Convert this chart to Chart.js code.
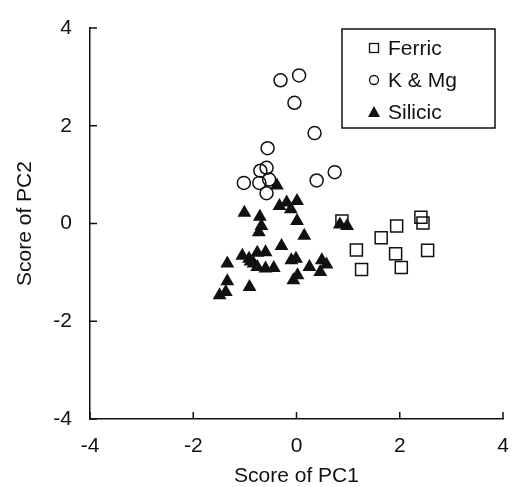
<!DOCTYPE html>
<html>
<head>
<meta charset="utf-8">
<script src="https://cdn.jsdelivr.net/npm/chart.js@4"></script>
<style>
  html, body { margin: 0; padding: 0; background: #fff; }
  #wrap { width: 513px; height: 487px; }
</style>
</head>
<body>
<div id="wrap"><canvas id="PcaChart"></canvas></div>
<script>
// Data dari gambar
const seriesNames = ['Ferric', 'K & Mg', 'Silicic'];

const ferricX = [0.88, 1.94, 2.41, 2.45, 1.64, 1.16, 1.92, 2.54, 1.26, 2.03];
const ferricY = [0.05, -0.05, 0.13, 0.01, -0.29, -0.54, -0.62, -0.55, -0.94, -0.90];

const kmgX = [-0.31, 0.05, -0.04, 0.35, -0.56, 0.74, 0.39, -0.70, -0.58, -1.02, -0.72, -0.53, -0.58];
const kmgY = [2.93, 3.03, 2.47, 1.85, 1.54, 1.05, 0.88, 1.08, 1.14, 0.83, 0.83, 0.90, 0.62];

const silicicX = [-0.38, -0.33, -0.19, 0.01, -0.11, 0.01, 0.15, -1.01, -0.71, -0.68, -0.73, -0.29,
  -1.05, -0.92, -0.76, -0.60, -0.83, -0.76, -0.60, -0.44, -1.34, -0.10, -0.01, 0.02, -0.06, 0.25,
  0.49, 0.58, 0.46, -1.34, -1.37, -1.49, -0.91, 0.84, 0.98, -0.89];
const silicicY = [0.78, 0.36, 0.43, 0.46, 0.29, 0.05, -0.25, 0.22, 0.14, -0.05, -0.18, -0.46,
  -0.66, -0.72, -0.60, -0.59, -0.82, -0.89, -0.92, -0.91, -0.82, -0.75, -0.72, -1.06, -1.16, -0.89,
  -0.75, -0.84, -0.99, -1.18, -1.40, -1.47, -1.30, -0.02, -0.05, -0.78];

const axisTicks = [-4, -2, 0, 2, 4];

function toPoints(xs, ys) {
  return xs.map((x, i) => ({ x: x, y: ys[i] }));
}

const ink = '#111';
const fontFam = '"Liberation Sans", Arial, Helvetica, sans-serif';

// tick ke dalam + legenda di dalam kotak
const innerTicks = {
  id: 'innerTicks',
  afterDraw(chart) {
    const c = chart.ctx;
    const xs = chart.scales.x, ys = chart.scales.y;
    const bottom = xs.top, left = ys.right;
    const len = 7;
    c.save();
    c.strokeStyle = ink;
    c.lineWidth = 1.5;
    c.beginPath();
    axisTicks.forEach(v => {
      const px = xs.getPixelForValue(v);
      c.moveTo(px, bottom);
      c.lineTo(px, bottom - len);
      const py = ys.getPixelForValue(v);
      c.moveTo(left, py);
      c.lineTo(left + len, py);
    });
    c.stroke();

    // legenda
    const bx = 342, by = 29, bw = 153, bh = 99;
    c.fillStyle = '#fff';
    c.fillRect(bx, by, bw, bh);
    c.lineWidth = 1.5;
    c.strokeRect(bx, by, bw, bh);
    const rows = [48, 80, 112];
    c.font = '21px ' + fontFam;
    c.textBaseline = 'middle';
    c.textAlign = 'left';
    chart.data.datasets.forEach((ds, i) => {
      const mx = 374, my = rows[i];
      c.lineWidth = 1.3;
      c.strokeStyle = ink;
      c.fillStyle = ink;
      if (ds.pointStyle === 'rect') {
        c.strokeRect(mx - 4.5, my - 4.5, 9, 9);
      } else if (ds.pointStyle === 'circle') {
        c.beginPath();
        c.arc(mx, my, 4.5, 0, Math.PI * 2);
        c.stroke();
      } else {
        c.beginPath();
        c.moveTo(mx, my - 6);
        c.lineTo(mx + 6, my + 5);
        c.lineTo(mx - 6, my + 5);
        c.closePath();
        c.fill();
      }
      c.fillStyle = ink;
      c.fillText(ds.label, 388, my + 1);
    });
    c.restore();
  }
};

const ctx = document.getElementById('PcaChart').getContext('2d');

const config = {
  type: 'scatter',
  data: {
    datasets: [
      {
        label: seriesNames[0],
        data: toPoints(ferricX, ferricY),
        pointStyle: 'rect',
        pointRadius: 8.5,
        pointBorderWidth: 1.5,
        borderColor: ink,
        backgroundColor: 'rgba(0,0,0,0)',
        order: 3
      },
      {
        label: seriesNames[1],
        data: toPoints(kmgX, kmgY),
        pointStyle: 'circle',
        pointRadius: 6.5,
        pointBorderWidth: 1.5,
        borderColor: ink,
        backgroundColor: 'rgba(0,0,0,0)',
        order: 2
      },
      {
        label: seriesNames[2],
        data: toPoints(silicicX, silicicY),
        pointStyle: 'triangle',
        pointRadius: 8,
        pointBorderWidth: 0,
        borderColor: ink,
        backgroundColor: ink,
        order: 1
      }
    ]
  },
  options: {
    responsive: true,
    maintainAspectRatio: false,
    animation: false,
    events: [],
    layout: {
      padding: { top: 28, right: 5, left: 0, bottom: 0 }
    },
    plugins: {
      legend: { display: false },
      tooltip: { enabled: false }
    },
    scales: {
      x: {
        type: 'linear',
        min: -4,
        max: 4,
        afterFit: s => { s.height = 68; s.paddingLeft = 0; s.paddingRight = 0; },
        afterBuildTicks: s => { s.ticks = axisTicks.map(v => ({ value: v })); },
        grid: { display: false, drawTicks: false },
        border: { display: true, color: ink, width: 1.5 },
        ticks: {
          color: ink,
          padding: 15,
          font: { size: 21, family: fontFam },
          callback: v => String(v)
        },
        title: {
          display: true,
          text: 'Score of PC1',
          color: ink,
          font: { size: 21, family: fontFam, lineHeight: 1 },
          padding: { top: 1, bottom: 0 }
        }
      },
      y: {
        type: 'linear',
        min: -4,
        max: 4,
        afterFit: s => { s.width = 90; s.paddingTop = 0; s.paddingBottom = 0; },
        afterBuildTicks: s => { s.ticks = axisTicks.map(v => ({ value: v })); },
        grid: { display: false, drawTicks: false },
        border: { display: true, color: ink, width: 1.5 },
        ticks: {
          color: ink,
          padding: 18,
          font: { size: 21, family: fontFam },
          callback: v => String(v)
        },
        title: {
          display: true,
          text: 'Score of PC2',
          color: ink,
          font: { size: 21, family: fontFam, lineHeight: 1 },
          padding: { top: 15, bottom: 0 }
        }
      }
    }
  },
  plugins: [innerTicks]
};

const pcaChart = new Chart(ctx, config);
</script>
</body>
</html>
